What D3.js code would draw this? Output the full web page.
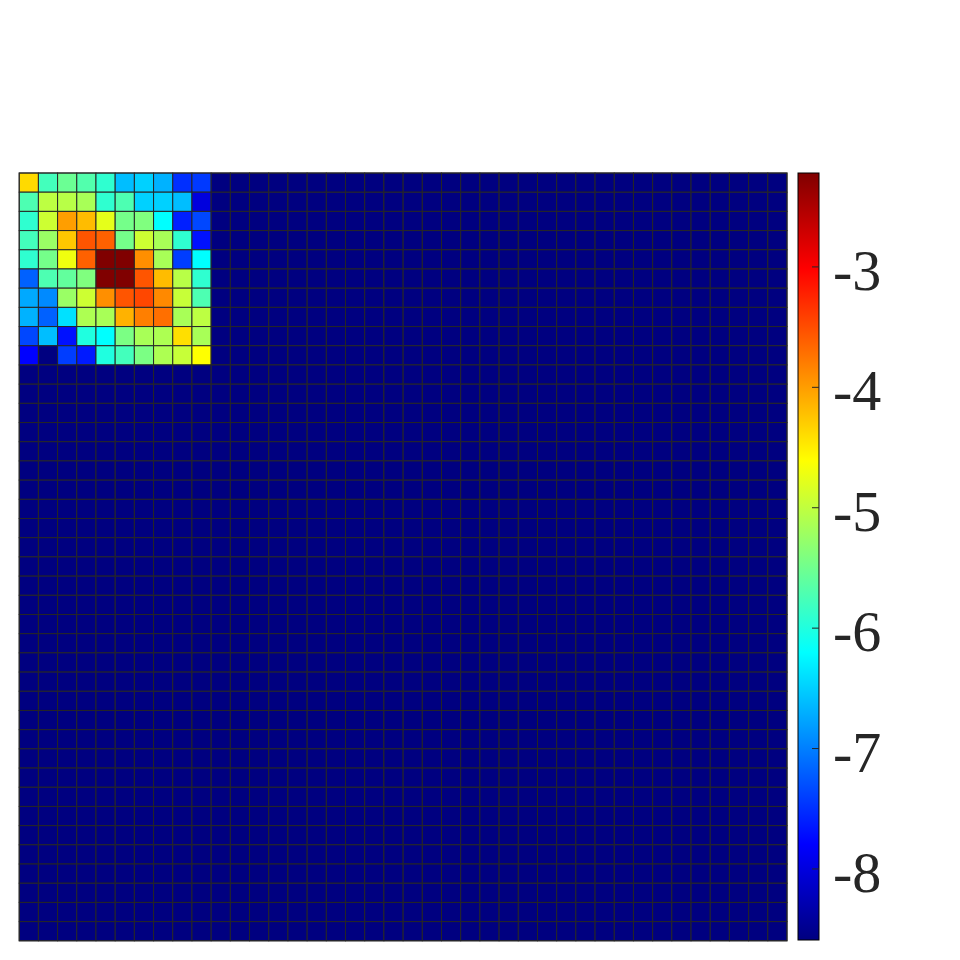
<!DOCTYPE html>
<html>
<head>
<meta charset="utf-8">
<script src="https://cdn.jsdelivr.net/npm/d3@7"></script>
<style>
  body { margin: 0; background: #fff; }
  svg { display: block; }
</style>
</head>
<body>
<script>
// grid is 40 x 40, only the top-left 10 x 10 block differs from the floor value
var gridSize = 40;
var floorValue = -8.59;

// values (log scale) of the top-left block, row by row
var blockRows = [
  [-4.38, -5.78, -5.53, -5.69, -5.91, -6.61, -6.49, -6.68, -7.50, -7.44],
  [-5.72, -5.02, -5.05, -5.15, -5.91, -5.72, -6.49, -6.49, -6.61, -8.01],
  [-5.91, -4.92, -4.00, -4.19, -4.77, -5.47, -5.40, -6.20, -7.60, -7.35],
  [-5.78, -5.24, -4.26, -3.55, -3.62, -5.47, -4.92, -5.15, -5.91, -7.69],
  [-5.91, -5.47, -4.70, -3.62, -2.22, -2.22, -3.91, -5.15, -7.41, -6.20],
  [-7.19, -5.72, -5.59, -5.40, -2.22, -2.22, -3.55, -4.19, -5.05, -5.91],
  [-6.74, -6.93, -5.24, -4.92, -3.91, -3.55, -3.46, -3.87, -4.96, -5.72],
  [-6.68, -7.19, -6.39, -5.12, -5.15, -4.13, -3.81, -3.71, -5.15, -5.02],
  [-7.35, -6.61, -7.69, -6.01, -6.20, -5.43, -5.15, -5.12, -4.41, -5.15],
  [-7.79, -8.59, -7.41, -7.63, -6.01, -5.78, -5.43, -5.12, -4.96, -4.61]
];

// colour limits and colorbar ticks
var colorMin = -8.59;
var colorMax = -2.22;
var cbTicks = [-8, -7, -6, -5, -4, -3];
var cbTickLabels = ["-8", "-7", "-6", "-5", "-4", "-3"];

var width = 960, height = 960;
var plot = { left: 19.2, top: 173, size: 767.8 };
var cb = { left: 798, width: 21, top: 173, height: 767 };

// jet colormap
var jetStops = ["#000080", "#0000ff", "#00ffff", "#ffff00", "#ff0000", "#800000"];
var jetPos = [0, 0.125, 0.375, 0.625, 0.875, 1];
var jet = d3.scaleLinear().domain(jetPos).range(jetStops).clamp(true);
var norm = d3.scaleLinear().domain([colorMin, colorMax]).range([0, 1]).clamp(true);
function colorOf(v) { return jet(norm(v)); }

// build the cell list
var cells = [];
for (var r = 0; r < gridSize; r++) {
  for (var c = 0; c < gridSize; c++) {
    var v = (r < blockRows.length && c < blockRows[r].length) ? blockRows[r][c] : floorValue;
    cells.push({ row: r, col: c, value: v });
  }
}

var idx = d3.range(gridSize);
var x = d3.scaleBand().domain(idx).range([plot.left, plot.left + plot.size]);
var y = d3.scaleBand().domain(idx).range([plot.top, plot.top + plot.size]);

var svg = d3.select("body").append("svg")
  .attr("width", width)
  .attr("height", height);

// heatmap cells
svg.append("g")
  .selectAll("rect")
  .data(cells)
  .enter()
  .append("rect")
  .attr("x", d => x(d.col))
  .attr("y", d => y(d.row))
  .attr("width", x.bandwidth())
  .attr("height", y.bandwidth())
  .attr("fill", d => colorOf(d.value))
  .attr("stroke", "#262626")
  .attr("stroke-width", 1);

// frame
svg.append("rect")
  .attr("x", plot.left)
  .attr("y", plot.top)
  .attr("width", plot.size)
  .attr("height", plot.size)
  .attr("fill", "none")
  .attr("stroke", "#262626")
  .attr("stroke-width", 1);

// colorbar gradient
var defs = svg.append("defs");
var grad = defs.append("linearGradient")
  .attr("id", "jetGrad")
  .attr("x1", 0).attr("y1", 1)
  .attr("x2", 0).attr("y2", 0);
grad.selectAll("stop")
  .data(jetPos)
  .enter()
  .append("stop")
  .attr("offset", d => d)
  .attr("stop-color", (d, i) => jetStops[i]);

svg.append("rect")
  .attr("x", cb.left)
  .attr("y", cb.top)
  .attr("width", cb.width)
  .attr("height", cb.height)
  .attr("fill", "url(#jetGrad)")
  .attr("stroke", "#000")
  .attr("stroke-width", 1);

var cbScale = d3.scaleLinear()
  .domain([colorMin, colorMax])
  .range([cb.top + cb.height, cb.top]);

var cbRight = cb.left + cb.width;

// tick marks, pointing inward from the right edge
svg.append("g")
  .selectAll("line")
  .data(cbTicks)
  .enter()
  .append("line")
  .attr("x1", cbRight - 7)
  .attr("x2", cbRight)
  .attr("y1", d => cbScale(d))
  .attr("y2", d => cbScale(d))
  .attr("stroke", "#262626")
  .attr("stroke-width", 1);

// tick labels
svg.append("g")
  .selectAll("text")
  .data(cbTicks)
  .enter()
  .append("text")
  .attr("x", cbRight + 14)
  .attr("y", d => cbScale(d) + 23)
  .style("font-family", "'Liberation Serif'")
  .style("font-size", "58px")
  .style("fill", "#262626")
  .text((d, i) => cbTickLabels[i]);
</script>
</body>
</html>
